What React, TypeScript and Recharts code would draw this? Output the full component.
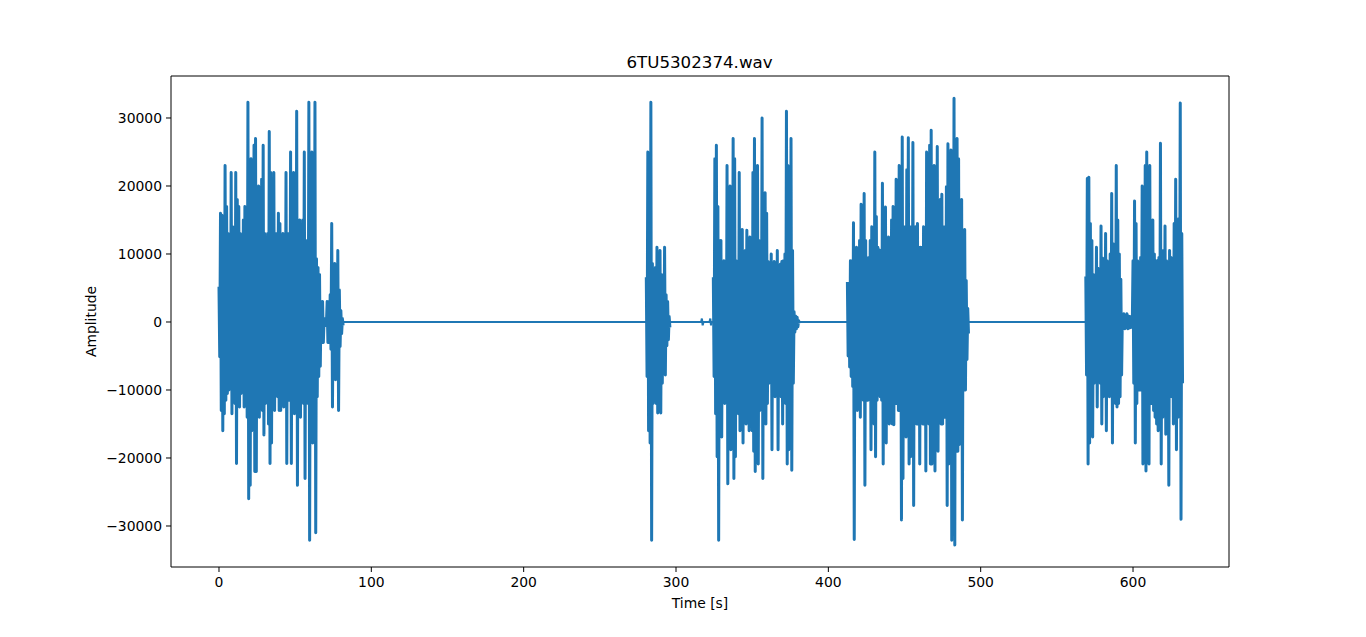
import { LineChart, Line, XAxis, YAxis, ReferenceArea } from 'recharts'

const xTicks = [0, 100, 200, 300, 400, 500, 600]
const yTicks = [-30000, -20000, -10000, 0, 10000, 20000, 30000]
const xDomain = [-31.5, 663]
const yDomain = [-36030, 36176]

// peak amplitudes, one upper + one lower per second
const burst1Start = 0
const burst1Upper = [5200, 16000, 15700, 13000, 23000, 17000, 13000, 12000, 22000, 14000, 13000, 22000, 18000, 17000, 13000, 12000, 15000, 17000, 14000, 32300, 20000, 24000, 18000, 26000, 27000, 14000, 20000, 13000, 21000, 26000, 13000, 12000, 13000, 28000, 22000, 14000, 22000, 13000, 13000, 16000, 14500, 12000, 13000, 12000, 22000, 13000, 13000, 25000, 14000, 22000, 13000, 31000, 13000, 15000, 12000, 15000, 25000, 11000, 12000, 32300, 14000, 25000, 12000, 32300, 9300, 8000, 7000, 3000, 3000, 500, 500, 3000, 3000, 4000, 14500, 6000, 8600, 7000, 10500, 4700, 1700, 500]
const burst1Lower = [-5100, -13000, -16000, -13500, -11500, -10500, -10000, -9500, -13500, -11000, -12000, -20800, -11000, -12500, -10500, -10000, -12500, -11500, -14000, -26000, -24000, -16000, -13000, -22000, -22000, -12000, -14000, -11500, -13000, -16600, -12000, -11000, -15000, -20800, -17800, -10500, -13000, -10500, -11000, -13000, -13000, -11500, -12500, -11000, -20800, -11500, -11500, -20800, -11500, -13500, -11000, -24000, -12000, -14000, -11500, -12000, -23000, -11000, -12000, -32100, -12000, -17800, -12000, -31000, -11000, -8000, -6500, -3000, -3000, -500, -500, -3000, -3000, -4000, -12500, -6000, -8500, -7000, -13000, -3600, -1700, -500]

const burst2Start = 280.5
const burst2Upper = [6600, 25000, 24000, 32300, 8600, 7500, 8000, 11000, 8000, 10500, 7000, 5000, 11000, 4000, 3000, 800]
const burst2Lower = [-8000, -16000, -17800, -32100, -12000, -11000, -12000, -13400, -10000, -13400, -9000, -6000, -7800, -3500, -2600, -800]

const blipTimes = [316.5, 317, 317.5, 318, 322, 322.5, 323, 323.5]
const blipAmps = [0, 500, -500, 0, 0, 500, -500, 0]

const burst3Start = 324.5
const burst3Upper = [6600, 24000, 26000, 17000, 12000, 12000, 8800, 9000, 8500, 23000, 12000, 20000, 11000, 27000, 24000, 9000, 8500, 22000, 10000, 13600, 9000, 10500, 13500, 9000, 12500, 9000, 22000, 27000, 12000, 23000, 12000, 11000, 30000, 12000, 19000, 16000, 8900, 6000, 10000, 8000, 8900, 8000, 10500, 8000, 8500, 8900, 9000, 10000, 31000, 23000, 9000, 27000, 10500, 1500, 900, 700, 200]
const burst3Lower = [-8000, -13500, -19800, -32100, -12000, -16900, -11000, -12000, -11000, -23800, -12000, -18800, -12000, -23000, -19800, -12000, -13500, -16000, -11500, -17800, -11000, -15000, -12000, -16000, -11500, -16000, -19000, -22000, -12000, -20900, -13000, -12000, -23000, -13000, -15000, -12000, -9000, -6000, -18800, -10000, -11000, -10000, -18800, -10000, -11000, -15000, -11000, -12000, -20900, -18800, -13000, -21800, -9000, -1500, -1000, -700, -200]

const burst4Start = 412.5
const burst4Upper = [5900, 5500, 9000, 9000, 14600, 9000, 11000, 9500, 12000, 17300, 10000, 18900, 12000, 8000, 9500, 12000, 14000, 13000, 25000, 15500, 11000, 10600, 10000, 20400, 10000, 16900, 10000, 12500, 10000, 15000, 17000, 11000, 21000, 11000, 23000, 11000, 27200, 14000, 14000, 22400, 27100, 14000, 14000, 26400, 14000, 14000, 14500, 11000, 11000, 11000, 14000, 12000, 25000, 15000, 26000, 28200, 14000, 23000, 14000, 25800, 14000, 18000, 18800, 14000, 14000, 19900, 26200, 15000, 25300, 17000, 32900, 20000, 27000, 24000, 17000, 18000, 12000, 13600, 6100, 2000]
const burst4Lower = [-5000, -6600, -8000, -9500, -32000, -12000, -13000, -11000, -14000, -11000, -11500, -24000, -11500, -11500, -11000, -18800, -12000, -15000, -19800, -11500, -10500, -11000, -11500, -20900, -14000, -17800, -12000, -15000, -14000, -15000, -15100, -12000, -12000, -13000, -13000, -29100, -23000, -14000, -16900, -14000, -20900, -19800, -14000, -27000, -14000, -15000, -15000, -20900, -14000, -15000, -15000, -21900, -13000, -15000, -20900, -20900, -14000, -21900, -15000, -19000, -14000, -15000, -15000, -14000, -14000, -27000, -20900, -14000, -32100, -15000, -32800, -19000, -19000, -18000, -16000, -29100, -10000, -10000, -5500, -1700]

const burst5Start = 569
const burst5Upper = [6700, 21100, 21300, 14500, 12000, 7000, 4700, 11000, 7900, 7000, 14100, 9400, 8000, 13000, 9000, 8000, 10000, 18900, 11500, 10000, 23000, 15000, 10000, 6300, 1000, 1200, 800, 1200, 900, 800, 800, 9000, 17800, 14500, 9000, 8500, 9500, 20000, 19000, 23000, 25000, 12000, 23000, 11000, 15000, 10000, 9000, 9000, 9500, 26300, 9000, 10500, 14100, 9000, 8000, 10500, 9500, 9000, 14500, 21000, 11000, 15200, 32200, 13000]
const burst5Lower = [-7800, -20900, -17800, -15000, -16900, -9000, -6000, -12500, -6000, -9000, -15000, -11000, -9000, -16000, -10000, -11000, -10000, -17800, -11000, -12000, -12500, -12000, -11000, -7800, -1000, -1000, -800, -1000, -900, -800, -800, -9000, -17800, -12000, -10000, -10000, -10000, -20900, -13000, -21900, -15000, -20900, -12000, -12000, -13000, -14000, -15000, -16000, -12000, -20900, -14000, -13000, -16500, -12000, -24000, -11000, -11000, -15000, -13000, -18800, -14000, -13000, -29000, -9000]

const bursts: Array<[number, number[], number[]]> = [
  [burst1Start, burst1Upper, burst1Lower],
  [burst2Start, burst2Upper, burst2Lower],
  [burst3Start, burst3Upper, burst3Lower],
  [burst4Start, burst4Upper, burst4Lower],
  [burst5Start, burst5Upper, burst5Lower],
]

// two series so the flat silence keeps the thin line and the bursts read as thick spikes
const wave: Array<{ t: number; amp?: number; quiet?: number }> = []
bursts.forEach(([start, upper, lower], b) => {
  if (b > 0) wave.push({ t: start, quiet: 0 })
  upper.forEach((u, i) => {
    wave.push({ t: start + i, amp: u })
    wave.push({ t: start + i + 0.5, amp: lower[i] })
  })
  if (b < bursts.length - 1) wave.push({ t: start + upper.length - 0.5, quiet: 0 })
  if (b === 1) blipTimes.forEach((t, i) => wave.push({ t, quiet: blipAmps[i] }))
})
wave.sort((a, b) => a.t - b.t)

const formatY = (v: number) => String(v).replace('-', '\u2212')
const font = '"DejaVu Sans"'

export default function App() {
  return (
    <div style={{ position: 'absolute', left: 0, top: 0, width: 1366, height: 637, fontFamily: font }}>
      <div style={{ position: 'absolute', left: 0, width: 1399, top: 53, textAlign: 'center', fontSize: 16.67, lineHeight: '20px', color: '#000' }}>
        6TU5302374.wav
      </div>
      <LineChart width={1366} height={637} data={wave} margin={{ top: 76, right: 137, bottom: 40, left: 111 }}>
        <XAxis
          dataKey="t"
          type="number"
          domain={xDomain}
          ticks={xTicks}
          allowDataOverflow
          axisLine={false}
          height={30}
          tickSize={5}
          tickMargin={5}
          stroke="#000"
          tick={{ fill: '#000', fontSize: 13.9 }}
          label={{ value: 'Time [s]', position: 'insideBottom', offset: -11, fill: '#000', fontSize: 13.9 }}
        />
        <YAxis
          type="number"
          domain={yDomain}
          ticks={yTicks}
          allowDataOverflow
          axisLine={false}
          width={60}
          tickSize={5}
          tickMargin={4}
          stroke="#000"
          tickFormatter={formatY}
          tick={{ fill: '#000', fontSize: 13.9 }}
          label={{ value: 'Amplitude', angle: -90, position: 'insideLeft', offset: -20, fill: '#000', fontSize: 13.9, style: { textAnchor: 'middle' } }}
        />
        <Line dataKey="quiet" connectNulls type="linear" stroke="#1f77b4" strokeWidth={2.08} dot={false} isAnimationActive={false} />
        <Line dataKey="amp" type="linear" stroke="#1f77b4" strokeWidth={3} dot={false} isAnimationActive={false} strokeLinejoin="round" />
        <ReferenceArea x1={xDomain[0]} x2={xDomain[1]} y1={yDomain[0]} y2={yDomain[1]} fill="none" stroke="#000" strokeWidth={1} />
      </LineChart>
    </div>
  )
}
